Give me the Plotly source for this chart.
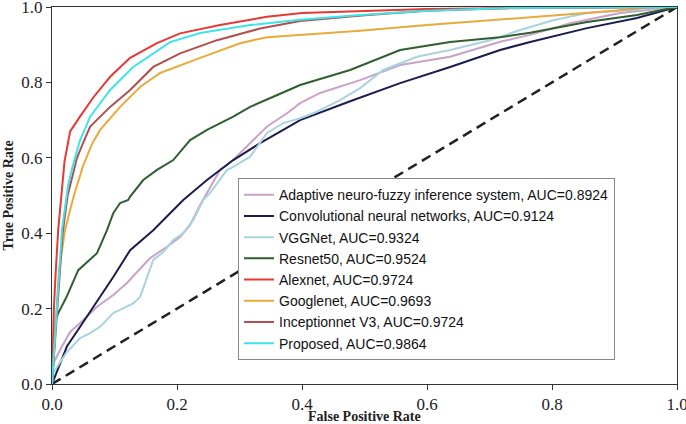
import plotly.graph_objects as go

# ---- data ----
names = [
    "Adaptive neuro-fuzzy inference system, AUC=0.8924",
    "Convolutional neural networks, AUC=0.9124",
    "VGGNet, AUC=0.9324",
    "Resnet50, AUC=0.9524",
    "Alexnet, AUC=0.9724",
    "Googlenet, AUC=0.9693",
    "Inceptionnet V3, AUC=0.9724",
    "Proposed, AUC=0.9864",
]

anfis_x = [0, 0.002, 0.016, 0.029, 0.045, 0.072, 0.098, 0.12, 0.136, 0.157, 0.184, 0.205, 0.221, 0.237, 0.269, 0.29, 0.322, 0.344, 0.376, 0.397, 0.429, 0.461, 0.493, 0.557, 0.637, 0.717, 0.765, 0.829, 0.909, 1.0]
anfis_y = [0, 0.055, 0.1, 0.138, 0.162, 0.205, 0.236, 0.268, 0.297, 0.334, 0.364, 0.39, 0.422, 0.475, 0.568, 0.594, 0.647, 0.683, 0.718, 0.745, 0.772, 0.788, 0.806, 0.846, 0.868, 0.908, 0.926, 0.957, 0.984, 1.0]

cnn_x = [0, 0.024, 0.045, 0.077, 0.098, 0.125, 0.162, 0.21, 0.248, 0.29, 0.333, 0.37, 0.397, 0.477, 0.557, 0.637, 0.717, 0.765, 0.856, 0.936, 1.0]
cnn_y = [0, 0.1, 0.152, 0.231, 0.284, 0.355, 0.408, 0.488, 0.541, 0.594, 0.639, 0.674, 0.7, 0.75, 0.798, 0.841, 0.886, 0.907, 0.944, 0.971, 1.0]

vgg_x = [0, 0.002, 0.024, 0.045, 0.061, 0.077, 0.098, 0.12, 0.13, 0.141, 0.152, 0.162, 0.178, 0.194, 0.21, 0.226, 0.242, 0.253, 0.28, 0.29, 0.317, 0.344, 0.37, 0.397, 0.418, 0.461, 0.493, 0.53, 0.584, 0.637, 0.701, 0.749, 0.802, 0.856, 1.0]
vgg_y = [0, 0.03, 0.085, 0.122, 0.135, 0.152, 0.188, 0.205, 0.214, 0.231, 0.284, 0.329, 0.35, 0.382, 0.4, 0.435, 0.488, 0.507, 0.568, 0.576, 0.603, 0.666, 0.692, 0.705, 0.718, 0.753, 0.785, 0.833, 0.868, 0.886, 0.912, 0.939, 0.965, 0.984, 1.0]

resnet_x = [0, 0.006, 0.01, 0.023, 0.042, 0.056, 0.072, 0.088, 0.098, 0.109, 0.122, 0.125, 0.146, 0.168, 0.194, 0.221, 0.248, 0.29, 0.317, 0.354, 0.397, 0.477, 0.557, 0.637, 0.717, 0.765, 0.856, 0.936, 1.0]
resnet_y = [0, 0.17, 0.188, 0.23, 0.302, 0.324, 0.347, 0.408, 0.453, 0.48, 0.488, 0.497, 0.541, 0.568, 0.594, 0.647, 0.674, 0.709, 0.735, 0.762, 0.793, 0.833, 0.886, 0.907, 0.92, 0.932, 0.96, 0.979, 1.0]

alex_x = [0, 0.003, 0.006, 0.01, 0.02, 0.029, 0.045, 0.066, 0.093, 0.125, 0.168, 0.205, 0.269, 0.344, 0.4, 0.5, 0.6, 0.8, 1.0]
alex_y = [0, 0.2, 0.3, 0.41, 0.59, 0.67, 0.71, 0.76, 0.815, 0.865, 0.904, 0.93, 0.952, 0.974, 0.984, 0.99, 0.995, 0.998, 1.0]

google_x = [0, 0.004, 0.007, 0.011, 0.021, 0.035, 0.05, 0.065, 0.077, 0.109, 0.141, 0.173, 0.237, 0.301, 0.344, 0.397, 0.493, 0.6, 0.765, 0.9, 0.96, 1.0]
google_y = [0, 0.1, 0.2, 0.3, 0.41, 0.5, 0.58, 0.64, 0.674, 0.735, 0.788, 0.825, 0.865, 0.904, 0.92, 0.926, 0.937, 0.952, 0.973, 0.99, 1.0, 1.0]

incep_x = [0, 0.004, 0.009, 0.012, 0.017, 0.025, 0.032, 0.04, 0.05, 0.061, 0.093, 0.125, 0.162, 0.205, 0.264, 0.333, 0.397, 0.5, 0.6, 0.72, 1.0]
incep_y = [0, 0.1, 0.2, 0.3, 0.4, 0.5, 0.55, 0.6, 0.64, 0.683, 0.735, 0.78, 0.841, 0.877, 0.912, 0.943, 0.963, 0.978, 0.99, 0.997, 1.0]

prop_x = [0, 0.004, 0.008, 0.011, 0.016, 0.026, 0.035, 0.045, 0.061, 0.093, 0.13, 0.189, 0.237, 0.317, 0.397, 0.493, 0.6, 0.72, 1.0]
prop_y = [0, 0.1, 0.2, 0.3, 0.41, 0.53, 0.59, 0.647, 0.709, 0.78, 0.841, 0.907, 0.931, 0.952, 0.966, 0.979, 0.99, 0.997, 1.0]

chance_x = [0, 1]
chance_y = [0, 1]

tick_vals = [0, 0.2, 0.4, 0.6, 0.8, 1.0]
tick_text = ["0.0", "0.2", "0.4", "0.6", "0.8", "1.0"]
x_title = "False Positive Rate"
y_title = "True Positive Rate"

xs = [anfis_x, cnn_x, vgg_x, resnet_x, alex_x, google_x, incep_x, prop_x]
ys = [anfis_y, cnn_y, vgg_y, resnet_y, alex_y, google_y, incep_y, prop_y]
colors = ["#c8a2c8", "#1c1c4e", "#a9d3de", "#2f5f30", "#e53935", "#e9aa3c", "#b0504e", "#3fe3ea"]

fig = go.Figure()
fig.add_trace(go.Scatter(x=chance_x, y=chance_y, mode="lines", showlegend=False,
                         line=dict(color="#222222", width=2.5, dash="10px,6px")))
for name, x, y, c in zip(names, xs, ys, colors):
    fig.add_trace(go.Scatter(x=x, y=y, mode="lines", name=name,
                             line=dict(color=c, width=2)))

axis_common = dict(
    range=[0, 1], tickvals=tick_vals, ticktext=tick_text,
    ticks="outside", ticklen=5, tickcolor="#333",
    showline=True, linecolor="#333", linewidth=1, mirror=True,
    showgrid=False, zeroline=False, automargin=False,
    ticklabeloverflow="allow",
    tickfont=dict(family="Liberation Serif", size=17, color="#222"),
)

fig.update_layout(
    width=686, height=424,
    margin=dict(l=52, r=9, t=7, b=40),
    paper_bgcolor="white", plot_bgcolor="white",
    font=dict(family="Liberation Serif", color="#222"),
    showlegend=True,
    legend=dict(x=0.2976, y=0.546, xanchor="left", yanchor="top",
                bgcolor="white", bordercolor="#888", borderwidth=1,
                font=dict(family="Liberation Sans", size=14, color="#111"),
                tracegroupgap=0, itemwidth=30),
    xaxis=axis_common,
    yaxis=axis_common,
    annotations=[
        dict(text="<b>" + x_title + "</b>", xref="paper", yref="paper",
             x=0.5, y=0, xanchor="center", yanchor="middle", yshift=-32,
             showarrow=False, font=dict(family="Liberation Serif", size=14, color="#222")),
        dict(text="<b>" + y_title + "</b>", xref="paper", yref="paper",
             x=0, y=0.5, xanchor="center", yanchor="middle", xshift=-44,
             textangle=-90, showarrow=False,
             font=dict(family="Liberation Serif", size=14, color="#222")),
    ],
)

fig.write_html("out.html", config={"displayModeBar": False},
               post_script="document.body.style.margin='0px';document.body.style.overflow='hidden';")
